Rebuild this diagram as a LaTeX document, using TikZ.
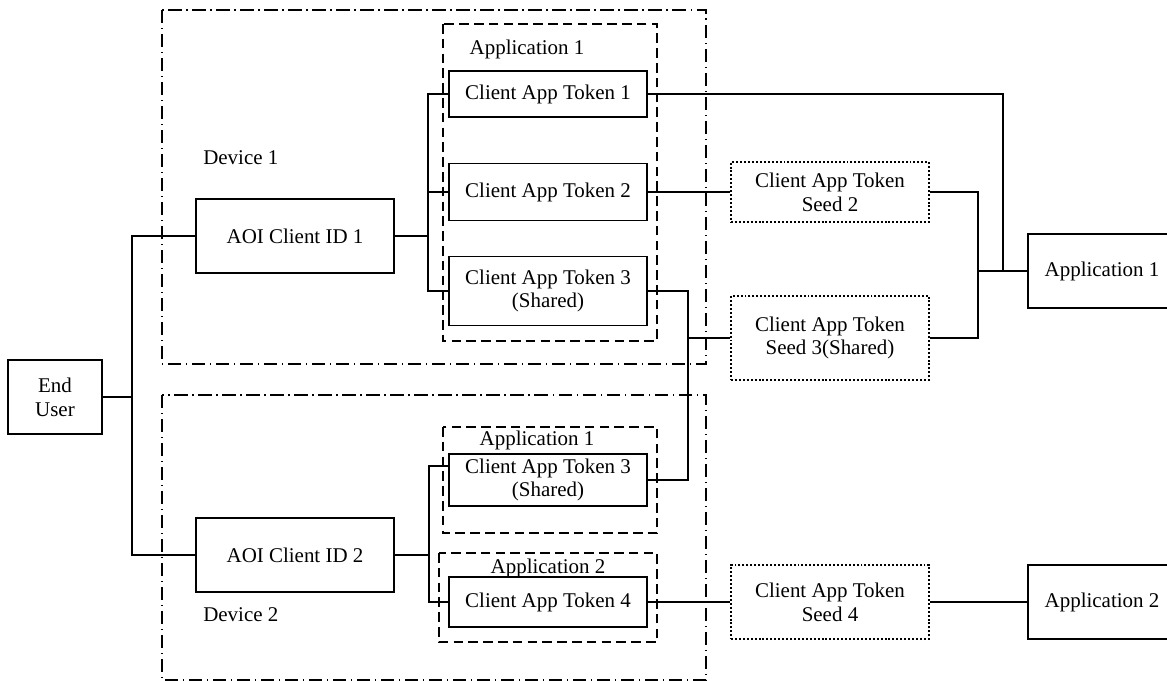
\documentclass[tikz,border=0pt]{standalone}
\usepackage{fontspec}
\setmainfont{Liberation Serif}
\usetikzlibrary{positioning}
\tikzset{
    box/.style={
           rectangle,
           draw=black, line width=1.2pt,
           inner sep=0pt,
           align=center,
           text centered,
           },
    seedbox/.style={box, dash pattern=on 1.4pt off 1.4pt},
    appgroup/.style={line width=1.2pt, dash pattern=on 0.24cm off 0.13cm},
    devgroup/.style={line width=1.1pt, dash pattern=on 0.33cm off 0.12cm on 0.03cm off 0.12cm},
    wire/.style={line width=1.1pt},
    lbl/.style={inner sep=0pt},
}
\newcommand{\tok}[1]{Client App Token #1}
\newcommand{\seed}[1]{Client App Token\\Seed #1}
\newcommand{\aoi}[1]{AOI Client ID #1}
\newcommand{\app}[1]{Application #1}

\begin{document}
\begin{tikzpicture}[x=0.025cm, y=-0.025cm, every node/.style={font=\fontsize{14.9}{17}\selectfont}]
  \useasboundingbox (0,0) rectangle (1167,681);
  % devices and application groups
  \draw[devgroup] (162,10) rectangle (706,364);
  \draw[devgroup] (162,395) rectangle (706,680);
  \draw[appgroup] (443,24) rectangle (657,341);
  \draw[appgroup] (443,427) rectangle (657,533);
  \draw[appgroup] (439,553) rectangle (657,642);
  \node[lbl, anchor=west] (dev1) at (203,158) {Device 1};
  \node[lbl, anchor=west] (dev2) at (203,615) {Device 2};
  \node[lbl] (grpA) at (527,49)  {\app{1}};
  \node[lbl] (grpB) at (537,440) {\app{1}};
  \node[lbl] (grpC) at (548,568) {\app{2}};
  % boxes
  \node[box, minimum width=2.35cm, minimum height=1.85cm] (eu)   at (55,397)  {End\\User};
  \node[box, minimum width=4.95cm, minimum height=1.85cm] (aoi1) at (295,236) {\aoi{1}};
  \node[box, minimum width=4.95cm, minimum height=1.85cm] (aoi2) at (295,555) {\aoi{2}};
  \node[box, minimum width=4.95cm, minimum height=1.15cm] (tk1)  at (548,94)  {\tok{1}};
  \node[box, minimum width=4.95cm, minimum height=1.43cm] (tk2)  at (548,192) {\tok{2}};
  \node[box, minimum width=4.95cm, minimum height=1.73cm] (tk3)  at (548,291) {\tok{3}\\(Shared)};
  \node[box, minimum width=4.95cm, minimum height=1.30cm] (tk3b) at (548,480) {\tok{3}\\(Shared)};
  \node[box, minimum width=4.95cm, minimum height=1.25cm] (tk4)  at (548,602) {\tok{4}};
  \node[seedbox, minimum width=4.95cm, minimum height=1.50cm] (sd2) at (830,192) {\seed{2}};
  \node[seedbox, minimum width=4.95cm, minimum height=2.10cm] (sd3) at (830,338) {\seed{3(Shared)}};
  \node[seedbox, minimum width=4.95cm, minimum height=1.85cm] (sd4) at (830,602) {\seed{4}};
  \node[box, minimum width=3.7cm, minimum height=1.85cm] (app1) at (1102,271) {\app{1}};
  \node[box, minimum width=3.7cm, minimum height=1.85cm] (app2) at (1102,602) {\app{2}};
  % junctions
  \coordinate (eub)   at (132,397);
  \coordinate (b1)    at (428,236);
  \coordinate (b2)    at (429,555);
  \coordinate (tk3in) at (449,466);
  \coordinate (sh)    at (688,338);
  \coordinate (a1s)   at (978,271);
  \coordinate (a1t)   at (1003,271);
  % connectors
  \draw[wire] (eu.east) -- (eub) |- (aoi1.west);
  \draw[wire] (eub) |- (aoi2.west);
  \draw[wire] (aoi1.east) -- (b1) |- (tk1.west);
  \draw[wire] (b1) |- (tk2.west);
  \draw[wire] (b1) |- (tk3.west);
  \draw[wire] (aoi2.east) -- (b2) |- (tk3in);
  \draw[wire] (b2) |- (tk4.west);
  \draw[wire] (tk1.east) -| (a1t);
  \draw[wire] (tk2.east) -- (sd2.west);
  \draw[wire] (tk3.east) -| (sh) -- (sd3.west);
  \draw[wire] (sh) |- (tk3b.east);
  \draw[wire] (sd2.east) -| (a1s);
  \draw[wire] (sd3.east) -| (a1s);
  \draw[wire] (a1s) -- (app1.west);
  \draw[wire] (tk4.east) -- (sd4.west);
  \draw[wire] (sd4.east) -- (app2.west);
\end{tikzpicture}
\end{document}
